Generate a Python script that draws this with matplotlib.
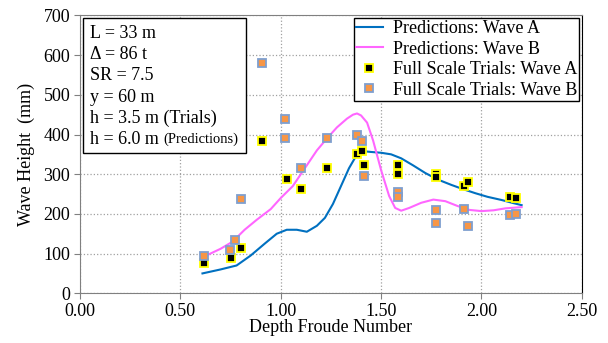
import matplotlib
matplotlib.use("Agg")
import matplotlib.pyplot as plt
import matplotlib.patches as mpatches

plt.rcParams['font.family'] = ['Liberation Serif', 'DejaVu Serif']

# predictions
pred_a_x = [0.61, 0.70, 0.78, 0.85, 0.92, 0.98, 1.03, 1.08, 1.13, 1.18, 1.22, 1.26, 1.30, 1.34, 1.38,
            1.41, 1.45, 1.50, 1.55, 1.60, 1.66, 1.72, 1.78, 1.85, 1.91, 1.97, 2.03, 2.10, 2.16, 2.20]
pred_a_y = [50, 60, 70, 95, 125, 150, 160, 160, 155, 170, 190, 225, 270, 315, 350,
            358, 356, 354, 350, 340, 322, 303, 287, 273, 262, 252, 243, 235, 227, 222]

pred_b_x = [0.62, 0.70, 0.76, 0.82, 0.88, 0.95, 1.00, 1.06, 1.12, 1.18, 1.23, 1.28, 1.33, 1.36, 1.38, 1.40,
            1.43, 1.46, 1.50, 1.54, 1.57, 1.60, 1.64, 1.70, 1.76, 1.82, 1.88, 1.94, 2.00, 2.06, 2.12, 2.20]
pred_b_y = [93, 112, 130, 160, 185, 212, 240, 270, 315, 360, 390, 418, 440, 450, 453, 448,
            430, 385, 310, 245, 215, 208, 215, 228, 236, 232, 220, 210, 207, 209, 214, 217]

# full scale trials
trial_a_x = [0.62, 0.75, 0.80, 0.906, 1.03, 1.10, 1.23, 1.378, 1.404, 1.413, 1.582, 1.582, 1.773, 1.773,
             1.914, 1.931, 2.141, 2.170]
trial_a_y = [75, 90, 115, 383, 288, 262, 315, 352, 358, 322, 322, 301, 300, 293, 270, 280, 242, 239]

trial_b_x = [0.62, 0.745, 0.77, 0.80, 0.906, 1.02, 1.02, 1.10, 1.23, 1.378, 1.404, 1.413, 1.582, 1.582,
             1.773, 1.773, 1.914, 1.931, 2.141, 2.170]
trial_b_y = [95, 110, 133, 237, 580, 438, 390, 315, 390, 400, 383, 296, 255, 242, 209, 176, 212, 169, 198, 199]

info_lines = ["L = 33 m", "\u0394 = 86 t", "SR = 7.5", "y = 60 m", "h = 3.5 m (Trials)", "h = 6.0 m "]

fig = plt.figure(figsize=(6.08, 3.43), dpi=100)
ax = fig.add_axes([0.1316, 0.145, 0.957 - 0.1316, 0.955 - 0.145])

ax.plot(pred_a_x, pred_a_y, color='#0070c0', lw=1.5, label='Predictions: Wave A', zorder=3)
ax.plot(pred_b_x, pred_b_y, color='#ff66ff', lw=1.5, label='Predictions: Wave B', zorder=3)
ax.plot(trial_a_x, trial_a_y, ls='none', marker='s', ms=5.5, mfc='black', mec='#ffff00', mew=1.3,
        label='Full Scale Trials: Wave A', zorder=4)
ax.plot(trial_b_x, trial_b_y, ls='none', marker='s', ms=5.5, mfc='#f79646', mec='#7f9fcf', mew=1.3,
        label='Full Scale Trials: Wave B', zorder=4)

ax.set_xlim(0, 2.5)
ax.set_ylim(0, 700)
ax.set_xticks([0, 0.5, 1.0, 1.5, 2.0, 2.5])
ax.set_xticklabels(['0.00', '0.50', '1.00', '1.50', '2.00', '2.50'])
ax.set_yticks(range(0, 701, 100))
ax.tick_params(labelsize=13, length=4, color='#808080', direction='out', pad=3)
ax.grid(True, ls=':', color='#a0a0a0', lw=0.9)
for s in ['left', 'bottom', 'top']:
    ax.spines[s].set_color('#808080')
ax.spines['right'].set_color('black')

ax.set_xlabel('Depth Froude Number', fontsize=13, labelpad=-1)
ax.set_ylabel('Wave Height  (mm)', fontsize=13, labelpad=6)

leg = ax.legend(loc='upper right', fontsize=13, frameon=True, fancybox=False, framealpha=1,
                edgecolor='black', borderaxespad=0.15, handlelength=1.5, labelspacing=0.2,
                borderpad=0.1, handletextpad=0.55)
leg.get_frame().set_linewidth(1.0)

# parameter box
box = mpatches.Rectangle((83 / 608, 1 - 153 / 343), (246 - 83) / 608, (153 - 18) / 343,
                         transform=fig.transFigure, fill=True, facecolor='white', edgecolor='black',
                         lw=1.0, zorder=5)
fig.patches.append(box)
line_y = [33, 54.5, 75.5, 97, 118, 139]
t = None
for s, yy in zip(info_lines, line_y):
    t = fig.text(90 / 608, 1 - yy / 343, s, fontsize=13, va='center', ha='left', zorder=6)
fig.canvas.draw()
bb = t.get_window_extent()
fig.text(bb.x1 / fig.bbox.width, 1 - 139.5 / 343, '(Predictions)', fontsize=10.5, va='center',
         ha='left', zorder=6)

fig.savefig('out.png', dpi=100)
